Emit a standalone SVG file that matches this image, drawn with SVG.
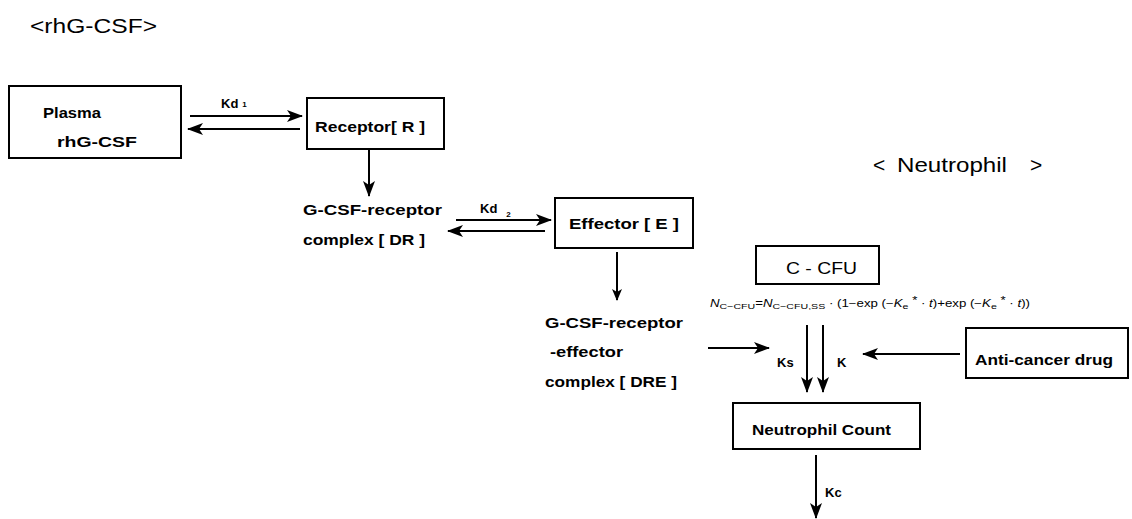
<svg xmlns="http://www.w3.org/2000/svg" width="1132" height="519" viewBox="0 0 1132 519">
<style>
text{font-family:"Liberation Sans",Arial,sans-serif;fill:#000}
.lb{font-size:15px;font-weight:bold}
.tt{font-size:21px}
.k{font-size:13px;font-weight:bold}
.sub{font-size:8px}
.f{font-size:10px}
.box{fill:#fff;stroke:#000;stroke-width:2}
.ln{stroke:#000;stroke-width:2;fill:none}
</style>
<defs>
<marker id="ah" viewBox="0 0 12 10" refX="11" refY="5" markerWidth="12" markerHeight="10" markerUnits="userSpaceOnUse" orient="auto">
<path d="M0,0 L12,5 L0,10 L3,5 Z" fill="#000"/>
</marker>
<marker id="ahb" viewBox="0 0 16 12" refX="15" refY="6" markerWidth="16" markerHeight="12" markerUnits="userSpaceOnUse" orient="auto">
<path d="M0,0 L16,6 L0,12 L4,6 Z" fill="#000"/>
</marker>
</defs>

<text class="tt" x="30" y="33" textLength="127" lengthAdjust="spacingAndGlyphs">&lt;rhG-CSF&gt;</text>
<text class="tt" y="172"><tspan x="873">&lt;</tspan><tspan x="897" textLength="110" lengthAdjust="spacingAndGlyphs">Neutrophil</tspan><tspan x="1030">&gt;</tspan></text>

<g id="plasma">
<rect class="box" x="9" y="86" width="172" height="72"/>
<text class="lb" x="43" y="118" textLength="58" lengthAdjust="spacingAndGlyphs">Plasma</text>
<text class="lb" x="57" y="147" textLength="80" lengthAdjust="spacingAndGlyphs">rhG-CSF</text>
</g>

<g id="receptor">
<rect class="box" x="307" y="98" width="137" height="51"/>
<text class="lb" x="315" y="132" textLength="110" lengthAdjust="spacingAndGlyphs">Receptor[ R ]</text>
</g>

<g id="dr">
<text class="lb" x="303" y="215" textLength="139" lengthAdjust="spacingAndGlyphs">G-CSF-receptor</text>
<text class="lb" x="303" y="245" textLength="122" lengthAdjust="spacingAndGlyphs">complex [ DR ]</text>
</g>

<g id="effector">
<rect class="box" x="555" y="198" width="138" height="50"/>
<text class="lb" x="569" y="229" textLength="110" lengthAdjust="spacingAndGlyphs">Effector [ E ]</text>
</g>

<g id="dre">
<text class="lb" x="545" y="328" textLength="138" lengthAdjust="spacingAndGlyphs">G-CSF-receptor</text>
<text class="lb" x="550" y="357" textLength="73" lengthAdjust="spacingAndGlyphs">-effector</text>
<text class="lb" x="545" y="387" textLength="132" lengthAdjust="spacingAndGlyphs">complex [ DRE ]</text>
</g>

<g id="ccfu">
<rect class="box" x="756" y="246" width="123" height="38"/>
<text class="lb" x="786" y="274" textLength="71" lengthAdjust="spacingAndGlyphs" style="font-size:16px;font-weight:normal">C - CFU</text>
<text class="f" x="710" y="307" textLength="320" lengthAdjust="spacingAndGlyphs"><tspan font-style="italic">N</tspan><tspan class="sub" dy="2">C−CFU</tspan><tspan dy="-2">=</tspan><tspan font-style="italic">N</tspan><tspan class="sub" dy="2">C−CFU,SS</tspan><tspan dy="-2"> · (1−exp (−</tspan><tspan font-style="italic">K</tspan><tspan class="sub" dy="2">e</tspan><tspan dy="-5"> *</tspan><tspan dy="3"> · </tspan><tspan font-style="italic">t</tspan><tspan>)+exp (−</tspan><tspan font-style="italic">K</tspan><tspan class="sub" dy="2">e</tspan><tspan dy="-5"> *</tspan><tspan dy="3"> · </tspan><tspan font-style="italic">t</tspan><tspan>))</tspan></text>
</g>

<g id="anticancer">
<rect class="box" x="966" y="328" width="162" height="50"/>
<text class="lb" x="975" y="365" textLength="138" lengthAdjust="spacingAndGlyphs">Anti-cancer drug</text>
</g>

<g id="neutrophil">
<rect class="box" x="733" y="403" width="187" height="46"/>
<text class="lb" x="752" y="435" textLength="139" lengthAdjust="spacingAndGlyphs">Neutrophil Count</text>
</g>

<g id="connectors">
<line class="ln" x1="190" y1="116" x2="302" y2="116" marker-end="url(#ahb)"/>
<line class="ln" x1="300" y1="129" x2="188" y2="129" marker-end="url(#ahb)"/>
<text class="k" x="221" y="108">Kd<tspan class="sub" dx="4" dy="-1">1</tspan></text>

<line class="ln" x1="369" y1="150" x2="369" y2="196" marker-end="url(#ahb)"/>

<line class="ln" x1="456" y1="220" x2="551" y2="220" marker-end="url(#ahb)"/>
<line class="ln" x1="545" y1="231" x2="448" y2="231" marker-end="url(#ahb)"/>
<text class="k" x="480" y="213">Kd<tspan class="sub" dx="9" dy="4">2</tspan></text>

<line class="ln" x1="617" y1="252" x2="617" y2="300" marker-end="url(#ah)"/>

<line class="ln" x1="708" y1="348" x2="769" y2="348" marker-end="url(#ahb)"/>
<line class="ln" x1="807" y1="325" x2="807" y2="392" marker-end="url(#ahb)"/>
<line class="ln" x1="823" y1="325" x2="823" y2="392" marker-end="url(#ahb)"/>
<text class="k" x="777" y="367">Ks</text>
<text class="k" x="837" y="367">K</text>
<line class="ln" x1="960" y1="354" x2="863" y2="354" marker-end="url(#ahb)"/>

<line class="ln" x1="816" y1="455" x2="816" y2="518" marker-end="url(#ahb)"/>
<text class="k" x="825" y="497">Kc</text>
</g>
</svg>
